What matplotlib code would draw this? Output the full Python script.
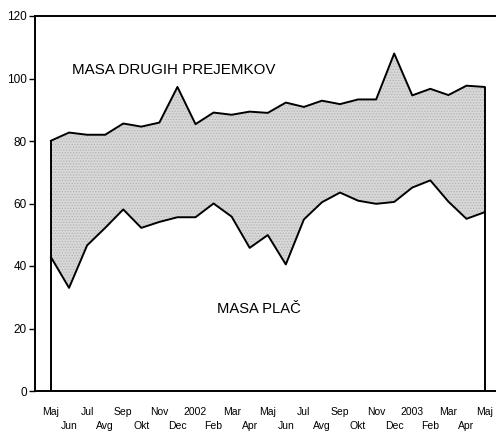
import numpy as np
import matplotlib
matplotlib.use('Agg')
import matplotlib.pyplot as plt

plt.rcParams['font.family'] = ['Liberation Sans', 'DejaVu Sans']
plt.rcParams['hatch.linewidth'] = 0.6

# months May 2001 - May 2003
months = ['Maj', 'Jun', 'Jul', 'Avg', 'Sep', 'Okt', 'Nov', 'Dec', '2002', 'Feb', 'Mar', 'Apr',
          'Maj', 'Jun', 'Jul', 'Avg', 'Sep', 'Okt', 'Nov', 'Dec', '2003', 'Feb', 'Mar', 'Apr', 'Maj']

# MASA PLAC (lower line)
masa_plac = [42.8, 33.0, 46.6, 52.2, 58.1, 52.2, 54.1, 55.6, 55.6, 60.0, 55.8, 45.8, 49.9,
             40.5, 54.9, 60.4, 63.5, 60.9, 59.9, 60.5, 65.1, 67.4, 60.6, 55.1, 57.2]
# plac + masa drugih prejemkov (upper line)
skupaj = [80.1, 82.7, 82.0, 82.0, 85.6, 84.6, 85.9, 97.3, 85.4, 89.1, 88.4, 89.4, 89.0,
          92.3, 90.9, 92.9, 91.8, 93.3, 93.3, 108.0, 94.6, 96.7, 94.7, 97.7, 97.3]

x = np.arange(len(months))

fig = plt.figure(figsize=(4.96, 4.32), dpi=100)
ax = fig.add_axes([35/496, 41/432, 1 - 35/496 + 0.01, 375/432])

# grey dotted band between the two lines
ax.fill_between(x, masa_plac, skupaj, facecolor='#d8d8d8', edgecolor='#b4b4b4',
                hatch='......', linewidth=0)
ax.plot(x, skupaj, color='black', lw=1.4)
ax.plot(x, masa_plac, color='black', lw=1.4)
ax.vlines([x[0], x[-1]], 0, [skupaj[0], skupaj[-1]], color='black', lw=1.4)

ax.text(1.15, 102.7, 'MASA DRUGIH PREJEMKOV', fontsize=10.9, va='center', ha='left')
ax.text(9.2, 26.2, 'MASA PLAČ', fontsize=10.6, va='center', ha='left')

ax.set_xlim(-0.885, 24.61 + 0.3)
ax.set_ylim(0, 120)
ax.set_yticks(range(0, 121, 20))
ax.tick_params(axis='y', direction='out', length=4, width=1, pad=2, labelsize=8.5)

ax.set_xticks(x[::2])
ax.set_xticklabels(months[::2])
ax.set_xticks(x[1::2], minor=True)
ax.set_xticklabels(months[1::2], minor=True)
ax.tick_params(axis='x', which='major', length=0, pad=11.5, labelsize=7.5)
ax.tick_params(axis='x', which='minor', length=0, pad=21.5, labelsize=7.5)

for s in ['left', 'top', 'bottom']:
    ax.spines[s].set_linewidth(1.4)
ax.spines['right'].set_visible(False)

plt.savefig('out.png', dpi=100)
